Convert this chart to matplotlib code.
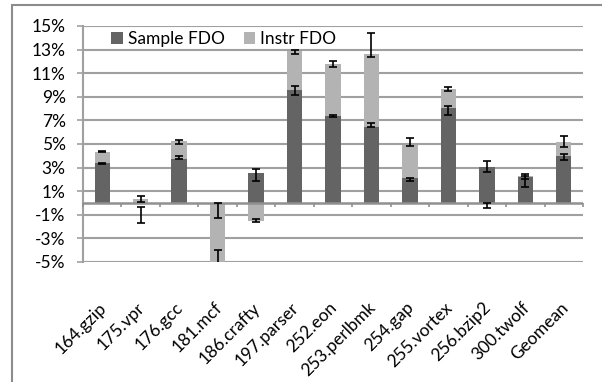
import matplotlib
matplotlib.use("Agg")
import matplotlib.pyplot as plt
import matplotlib.transforms as mtransforms
from matplotlib.patches import Rectangle
import numpy as np

categories = ["164.gzip", "175.vpr", "176.gcc", "181.mcf", "186.crafty", "197.parser",
              "252.eon", "253.perlbmk", "254.gap", "255.vortex", "256.bzip2", "300.twolf", "Geomean"]
sample = [3.35, 0.0, 3.75, 0.0, 2.55, 9.55, 7.38, 6.47, 2.12, 8.05, 3.03, 2.2, 3.96]
instr = [4.33, 0.3, 5.23, -5.5, -1.49, 12.9, 11.78, 12.66, 4.89, 9.64, -0.05, 2.28, 5.17]
sample_err_lo = [3.30, -1.7, 3.75, -1.3, 1.84, 9.18, 7.32, 6.44, 1.90, 7.43, 2.63, 1.39, 3.67]
sample_err_hi = [3.40, -0.3, 3.95, 0.0, 2.92, 9.89, 7.44, 6.78, 2.15, 8.22, 3.59, 2.26, 4.18]
instr_err_lo = [4.28, 0.08, 5.03, -7.0, -1.64, 12.60, 11.56, 12.40, 4.86, 9.52, -0.42, 2.07, 4.75]
instr_err_hi = [4.38, 0.60, 5.37, -4.0, -1.32, 12.95, 12.03, 14.38, 5.50, 9.86, 0.0, 2.43, 5.68]
yticks = [-5, -3, -1, 1, 3, 5, 7, 9, 11, 13, 15]
ytick_labels = ["-5%", "-3%", "-1%", "1%", "3%", "5%", "7%", "9%", "11%", "13%", "15%"]

plt.rcParams['font.family'] = ['Lato', 'DejaVu Sans']
FS = 12.5
DARK = "#646464"
LIGHT = "#b3b3b3"
GRID = "#a0a0a0"

fig = plt.figure(figsize=(6.02, 3.82), dpi=100)
fig.patches.append(Rectangle((12 / 602, -0.5), 2.0, 1.5 - 5 / 382, transform=fig.transFigure,
                             fill=False, edgecolor="#8c8c8c", linewidth=1.5))
ax = fig.add_axes([83 / 602, 1 - 262 / 382, 500 / 602, 236 / 382])

x = np.arange(len(categories))
w = 0.4
ax.bar(x, instr, width=w, color=LIGHT, zorder=2, label="Instr FDO")
ax.bar(x, sample, width=w, color=DARK, zorder=3, label="Sample FDO")

def draw_err(lo, hi):
    lo = np.array(lo); hi = np.array(hi)
    c = (lo + hi) / 2
    e = (hi - lo) / 2
    ax.errorbar(x, c, yerr=e, fmt="none", ecolor="black", elinewidth=1.2,
                capsize=3.2, capthick=1.2, zorder=5)

draw_err(sample_err_lo, sample_err_hi)
draw_err(instr_err_lo, instr_err_hi)

ax.set_xlim(-0.5, len(categories) - 0.5)
ax.set_ylim(-5, 15)
ax.set_yticks(yticks)
ax.set_yticklabels(ytick_labels, fontsize=FS)
ax.yaxis.grid(True, color=GRID, linewidth=1.5, zorder=0)
ax.set_axisbelow(True)
ax.tick_params(axis="y", length=4.5, width=1.2, color=GRID, pad=8)

ax.set_xticks(x)
ax.set_xticklabels(categories, rotation=45, ha="right", va="top", rotation_mode="anchor", fontsize=FS)
ax.tick_params(axis="x", length=0, pad=27)
offset = mtransforms.ScaledTranslation(-4 / 100, 0, fig.dpi_scale_trans)
for lbl in ax.get_xticklabels():
    lbl.set_transform(lbl.get_transform() + offset)

for s in ["top", "right", "bottom"]:
    ax.spines[s].set_visible(False)
ax.spines["left"].set_color(GRID)
ax.spines["left"].set_linewidth(1.5)

# zero axis line with category boundary ticks
ax.axhline(0, color="#909090", linewidth=1.8, zorder=4)
bounds = np.arange(len(categories) + 1) - 0.5
ax.vlines(bounds, -0.38, 0, color="#909090", linewidth=1.2, zorder=4, clip_on=False)

h, l = ax.get_legend_handles_labels()
leg = ax.legend([h[1], h[0]], [l[1], l[0]], ncol=2, loc="center", bbox_to_anchor=(0.282, 0.945),
                frameon=False, fontsize=FS, handlelength=0.65, handleheight=0.65,
                handletextpad=0.3, columnspacing=1.1, borderpad=0)

fig.savefig("out.png", dpi=100)
